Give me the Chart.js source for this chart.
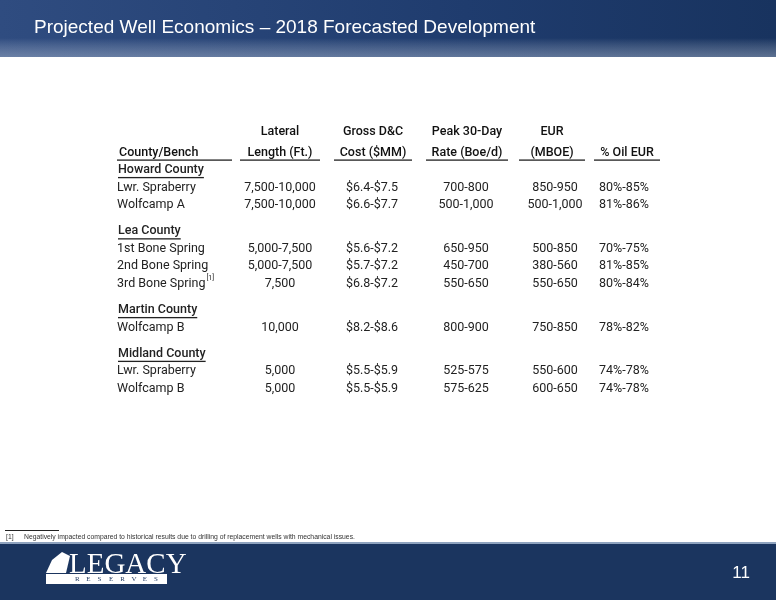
<!DOCTYPE html><html><head><meta charset="utf-8">
<script src="https://cdn.jsdelivr.net/npm/chart.js@4"></script>
<style>html,body{margin:0;padding:0;background:#fff}#w{width:776px;height:600px;position:relative}</style>
</head><body><div id="w"><canvas id="c" width="776" height="600"></canvas></div>
<script>
const title = "Projected Well Economics – 2018 Forecasted Development";
const headerLine1 = ["", "Lateral", "Gross D&C", "Peak 30-Day", "EUR", ""];
const headerLine2 = ["County/Bench", "Length (Ft.)", "Cost ($MM)", "Rate (Boe/d)", "(MBOE)", "% Oil EUR"];
const groups = ["Howard County", "Lea County", "Martin County", "Midland County"];
const benches = [
  ["Lwr. Spraberry", "Wolfcamp A"],
  ["1st Bone Spring", "2nd Bone Spring", "3rd Bone Spring"],
  ["Wolfcamp B"],
  ["Lwr. Spraberry", "Wolfcamp B"]
];
const lateral = [["7,500-10,000","7,500-10,000"],["5,000-7,500","5,000-7,500","7,500"],["10,000"],["5,000","5,000"]];
const cost = [["$6.4-$7.5","$6.6-$7.7"],["$5.6-$7.2","$5.7-$7.2","$6.8-$7.2"],["$8.2-$8.6"],["$5.5-$5.9","$5.5-$5.9"]];
const peak = [["700-800","500-1,000"],["650-950","450-700","550-650"],["800-900"],["525-575","575-625"]];
const eur = [["850-950","500-1,000"],["500-850","380-560","550-650"],["750-850"],["550-600","600-650"]];
const oil = [["80%-85%","81%-86%"],["70%-75%","81%-85%","80%-84%"],["78%-82%"],["74%-78%","74%-78%"]];
const footnoteMark = "[1]";
const footnote = "Negatively impacted compared to historical results due to drilling of replacement wells with mechanical issues.";
const pageNum = "11";

// layout (style)
const colX = [117, 280, 372, 466, 555, 624];
const ulSpan = [[117,232],[240,320],[334,412],[426,508],[519,585],[594,660]];
const FONT = "Roboto, 'Open Sans', sans-serif";

const rows = [];
let slot = 0;
groups.forEach((g, gi) => {
  if (gi > 0) slot += 0.5;
  rows.push({slot: slot++, type: 'g', text: g});
  benches[gi].forEach((b, bi) => {
    rows.push({slot: slot++, type: 'r', cells: [b, lateral[gi][bi], cost[gi][bi], peak[gi][bi], eur[gi][bi], oil[gi][bi]], sup: (gi===1&&bi===2)});
  });
});

const tablePlugin = {
  id: 'tbl',
  afterDraw(chart) {
    const ctx = chart.ctx, ys = chart.scales.y;
    const py = s => ys.getPixelForValue(s);
    ctx.save();
    let g = ctx.createLinearGradient(0,0,776,0);
    g.addColorStop(0,'#2f4c80'); g.addColorStop(0.6,'#1f3c6e'); g.addColorStop(1,'#18335f');
    ctx.fillStyle = g; ctx.fillRect(0,0,776,57);
    let g2 = ctx.createLinearGradient(0,38,0,58);
    g2.addColorStop(0,'rgba(255,255,255,0)'); g2.addColorStop(1,'rgba(200,210,225,0.4)');
    ctx.fillStyle = g2; ctx.fillRect(0,38,776,19);
    ctx.fillStyle = '#fff'; ctx.font = "19px 'Liberation Sans', Arial, sans-serif";
    ctx.textBaseline = 'middle'; ctx.textAlign = 'left';
    ctx.fillText(title, 34, 28);
    ctx.fillStyle = '#1b355f'; ctx.fillRect(0,544,776,56);
    ctx.fillStyle = '#8fa3bf'; ctx.fillRect(0,542,776,2);
    ctx.fillStyle = '#fff'; ctx.font = "17px 'Liberation Sans', Arial, sans-serif";
    ctx.textAlign = 'right'; ctx.fillText(pageNum, 750, 573);
    ctx.textAlign = 'left'; ctx.font = "29px 'Liberation Serif', serif";
    ctx.fillText("LEGACY", 69, 565);
    ctx.fillRect(46, 574, 121, 10);
    ctx.fillStyle = '#1b355f'; ctx.font = "7px 'Liberation Serif', serif";
    "RESERVES".split("").forEach((ch,i)=>ctx.fillText(ch, 75 + i*11.3, 579.5));
    ctx.fillStyle = '#fff';
    ctx.beginPath(); ctx.moveTo(46,573); ctx.lineTo(52,560); ctx.lineTo(62,552); ctx.lineTo(70,556); ctx.lineTo(66,573); ctx.closePath(); ctx.fill();
    ctx.fillStyle = '#222'; ctx.fillRect(5,530,54,1);
    ctx.font = "6.8px 'Liberation Sans', Arial, sans-serif";
    ctx.fillStyle = '#333';
    ctx.fillText(footnoteMark, 6, 537); ctx.fillText(footnote, 24, 537);
    ctx.fillStyle = '#111'; ctx.font = "500 12.5px " + FONT;
    [headerLine1, headerLine2].forEach((line, li) => {
      const y = py(li === 0 ? -2.15 : -1);
      line.forEach((t, ci) => {
        if (!t) return;
        ctx.textAlign = ci === 0 ? 'left' : 'center';
        const x = ci === 0 ? colX[0] + 2 : (ulSpan[ci][0] + ulSpan[ci][1]) / 2;
        ctx.fillText(t, x, y);
      });
    });
    ctx.fillStyle = '#222';
    ulSpan.forEach(s => ctx.fillRect(s[0], py(-1) + 7, s[1]-s[0], 1.3));
    ctx.font = "12.5px " + FONT;
    rows.forEach(r => {
      const y = py(r.slot);
      if (r.type === 'g') {
        ctx.font = "500 12.5px " + FONT; ctx.textAlign = 'left';
        ctx.fillText(r.text, colX[0]+1, y);
        const w = ctx.measureText(r.text).width;
        ctx.fillRect(colX[0]+1, y + 7, w, 1.3);
        ctx.font = "12.5px " + FONT;
      } else {
        r.cells.forEach((t, ci) => {
          ctx.textAlign = ci === 0 ? 'left' : 'center';
          ctx.fillText(t, colX[ci], y);
        });
        if (r.sup) {
          const w = ctx.measureText(r.cells[0]).width;
          ctx.font = "7px " + FONT; ctx.textAlign = 'left';
          ctx.fillText(footnoteMark, colX[0] + w + 1, y - 5);
          ctx.font = "12.5px " + FONT;
        }
      }
    });
    ctx.restore();
  }
};

new Chart(document.getElementById('c'), {
  type: 'scatter',
  data: { datasets: [{ data: rows.map(r => ({x: 0, y: r.slot})), pointRadius: 0 }] },
  options: {
    responsive: false, animation: false, events: [],
    layout: { padding: 0 },
    plugins: { legend: {display:false}, tooltip: {enabled:false} },
    scales: {
      x: { display: false, min: 0, max: 1 },
      y: { display: false, reverse: true, min: -9.71, max: 24.57 }
    }
  },
  plugins: [tablePlugin]
});
</script></body></html>
